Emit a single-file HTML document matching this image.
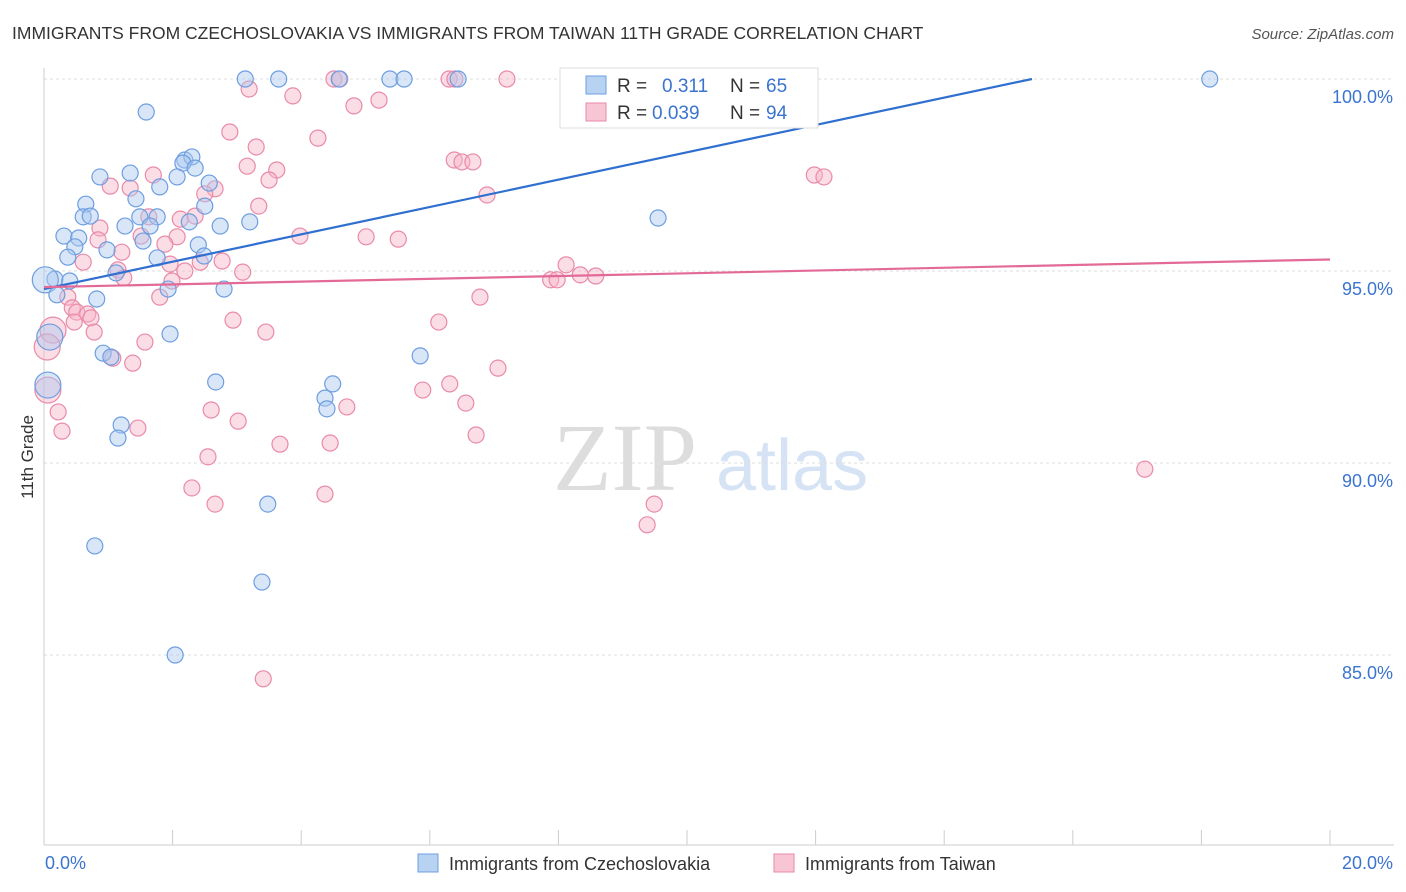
<!DOCTYPE html>
<html><head><meta charset="utf-8"><style>
body{margin:0;background:#fff;font-family:"Liberation Sans",sans-serif;}
svg{display:block}
</style></head><body>
<svg id="chart" width="1406" height="892" xmlns="http://www.w3.org/2000/svg">
<text x="12" y="39" font-size="17.5" fill="#333">IMMIGRANTS FROM CZECHOSLOVAKIA VS IMMIGRANTS FROM TAIWAN 11TH GRADE CORRELATION CHART</text>
<text x="1394" y="39" font-size="15" fill="#555" font-style="italic" text-anchor="end">Source: ZipAtlas.com</text>
<g>
<text x="553" y="490" font-size="96" fill="#ddd" font-family="Liberation Serif, serif">ZIP</text>
<text x="716" y="490" font-size="72" fill="#d6e3f4">atlas</text>
</g>
<g id="grid"></g>
<g id="axes"></g>
<g id="marks"></g>
<text transform="translate(33,457) rotate(-90)" font-size="17" fill="#333" text-anchor="middle">11th Grade</text>
<g>
<rect x="560" y="68" width="258" height="60" fill="#fff" stroke="#ddd"/>
<rect x="586" y="76" width="20" height="18" fill="#b8d2f2" stroke="#6d9ee0"/>
<text x="617" y="92" font-size="19" fill="#333">R = </text><text x="662" y="92" font-size="19" fill="#3b74cf">0.311</text>
<text x="730" y="92" font-size="19" fill="#333">N = </text><text x="766" y="92" font-size="19" fill="#3b74cf">65</text>
<rect x="586" y="103" width="20" height="18" fill="#f8c5d5" stroke="#e98aa9"/>
<text x="617" y="119" font-size="19" fill="#333">R = </text><text x="652" y="119" font-size="19" fill="#3b74cf">0.039</text>
<text x="730" y="119" font-size="19" fill="#333">N = </text><text x="766" y="119" font-size="19" fill="#3b74cf">94</text>
</g>
<g>
<g>
<rect x="418" y="854" width="20" height="18" fill="#b8d2f2" stroke="#6d9ee0"/>
<text x="449" y="870" font-size="18" fill="#333">Immigrants from Czechoslovakia</text></g>
<g>
<rect x="774" y="854" width="20" height="18" fill="#f8c5d5" stroke="#e98aa9"/>
<text x="805" y="870" font-size="18" fill="#333">Immigrants from Taiwan</text></g>
</g>
</svg>
<script>
const yTicks=[100,95,90,85];
const yTickLabels=["100.0%","95.0%","90.0%","85.0%"];
const xTickLabels=["0.0%","20.0%"];
const blueX=[1.59,3.13,3.65,4.59,5.38,5.60,6.44,8.15,18.13,0.87,1.34,2.19,2.30,2.16,2.35,2.57,1.80,2.07,0.65,0.61,0.72,1.43,1.76,1.49,1.26,1.65,2.50,2.74,3.20,2.26,0.31,0.54,0.48,0.98,1.54,2.40,0.37,1.76,2.49,0.17,0.40,0.02,1.12,0.20,0.82,1.93,2.80,0.09,1.96,0.92,1.04,5.85,0.06,2.67,4.49,4.37,4.40,1.20,1.15,3.48,0.79,3.39,2.04,9.55];
const blueY=[99.14,100,100,100,100,100,100,100,100,97.45,97.55,97.89,97.97,97.81,97.68,97.29,97.19,97.45,96.74,96.41,96.43,96.88,96.41,96.41,96.17,96.17,96.69,96.17,96.28,96.28,95.91,95.86,95.63,95.55,95.78,95.68,95.36,95.34,95.39,94.79,94.74,94.77,94.95,94.38,94.27,94.53,94.53,93.28,93.36,92.86,92.76,92.79,92.03,92.11,92.06,91.69,91.41,90.99,90.65,88.93,87.84,86.90,85.00,96.38];
const blueBig=[41,47,52];
const pinkX=[3.19,4.51,4.60,6.30,6.39,7.20,11.76,3.87,4.82,5.21,2.89,4.26,3.30,3.16,3.62,3.50,6.38,6.50,6.67,6.89,1.03,1.34,1.70,2.66,2.50,3.34,2.12,1.63,2.35,0.87,0.84,1.51,2.07,3.98,5.01,5.51,1.21,1.88,2.77,1.96,2.43,2.19,3.09,0.61,1.15,1.24,1.99,1.80,0.37,0.44,0.51,0.68,0.73,0.47,2.94,3.45,0.78,0.14,0.05,1.57,1.07,1.38,6.78,6.14,7.88,7.98,8.12,8.34,8.58,7.06,6.31,5.89,6.56,4.71,2.60,3.02,0.22,0.28,1.46,3.67,4.45,6.72,2.55,2.30,2.66,4.37,9.49,9.38,3.41,17.12,11.98,12.13,0.06];
const pinkY=[99.74,100,100,100,100,100,100,99.56,99.30,99.45,98.62,98.46,98.23,97.73,97.63,97.37,97.89,97.84,97.84,96.98,97.21,97.16,97.50,97.14,97.01,96.69,96.35,96.41,96.43,96.12,95.81,95.91,95.89,95.91,95.89,95.83,95.49,95.70,95.26,95.18,95.23,95.00,94.97,95.23,95.03,94.82,94.74,94.32,94.32,94.04,93.93,93.88,93.78,93.67,93.72,93.41,93.41,93.46,93.02,93.15,92.73,92.60,94.32,93.67,94.77,94.77,95.16,94.90,94.87,92.47,92.06,91.90,91.56,91.46,91.38,91.09,91.33,90.83,90.91,90.49,90.52,90.73,90.16,89.35,88.93,89.19,88.93,88.39,84.38,89.84,97.50,97.45,91.90];
const pinkBig=[57,58,92];
const blueTrend=[94.53,0.356];
const pinkTrend=[94.58,0.036];
const NS="http://www.w3.org/2000/svg";
const X=v=>44+v/20*1286, Y=v=>79+(100-v)/5*192;
function mk(p,tag,at){const e=document.createElementNS(NS,tag);for(const k in at)e.setAttribute(k,at[k]);p.appendChild(e);return e;}
const grid=document.getElementById('grid'),axes=document.getElementById('axes'),marks=document.getElementById('marks');
yTicks.forEach((t,i)=>{
 const l=mk(grid,'line',{x1:44,x2:1394,y1:Y(t),y2:Y(t),stroke:'#ddd','stroke-dasharray':'3,3'});
 
 
 const tx=mk(axes,'text',{x:1393,y:Y(t)+24,'font-size':18,fill:'#3b74cf','text-anchor':'end'});tx.textContent=yTickLabels[i];
 
 
});
mk(axes,'line',{x1:44,x2:44,y1:68,y2:845,stroke:'#ccc'});
mk(axes,'line',{x1:44,x2:1394,y1:845,y2:845,stroke:'#ccc'});
for(let i=0;i<=10;i++){const t=mk(axes,'line',{x1:X(i*2),x2:X(i*2),y1:830,y2:845,stroke:'#ccc'});
 
 }
const x0=mk(axes,'text',{x:45,y:869,'font-size':18,fill:'#3b74cf'});x0.textContent=xTickLabels[0];


const x1=mk(axes,'text',{x:1393,y:869,'font-size':18,fill:'#3b74cf','text-anchor':'end'});x1.textContent=xTickLabels[1];


function pts(xs,ys,big,fill,stroke,name){xs.forEach((x,i)=>{
 const c=mk(marks,'circle',{cx:X(x),cy:Y(ys[i]),r:big.includes(i)?13:8,fill:fill,'fill-opacity':0.45,stroke:stroke,'stroke-width':1.2});
 
 });}
pts(pinkX,pinkY,pinkBig,'#f6b3c8','#e98aa9','taiwan-point');
pts(blueX,blueY,blueBig,'#a9c8f0','#6d9ee0','czechoslovakia-point');
const bEnd=(100-blueTrend[0])/blueTrend[1];
const bl=mk(marks,'line',{x1:X(0),y1:Y(blueTrend[0]),x2:X(bEnd),y2:Y(100),stroke:'#2f6fd0','stroke-width':2.2});


const pl=mk(marks,'line',{x1:X(0),y1:Y(pinkTrend[0]),x2:X(20),y2:Y(pinkTrend[0]+pinkTrend[1]*20),stroke:'#e36a96','stroke-width':2.2});


</script>
</body></html>
